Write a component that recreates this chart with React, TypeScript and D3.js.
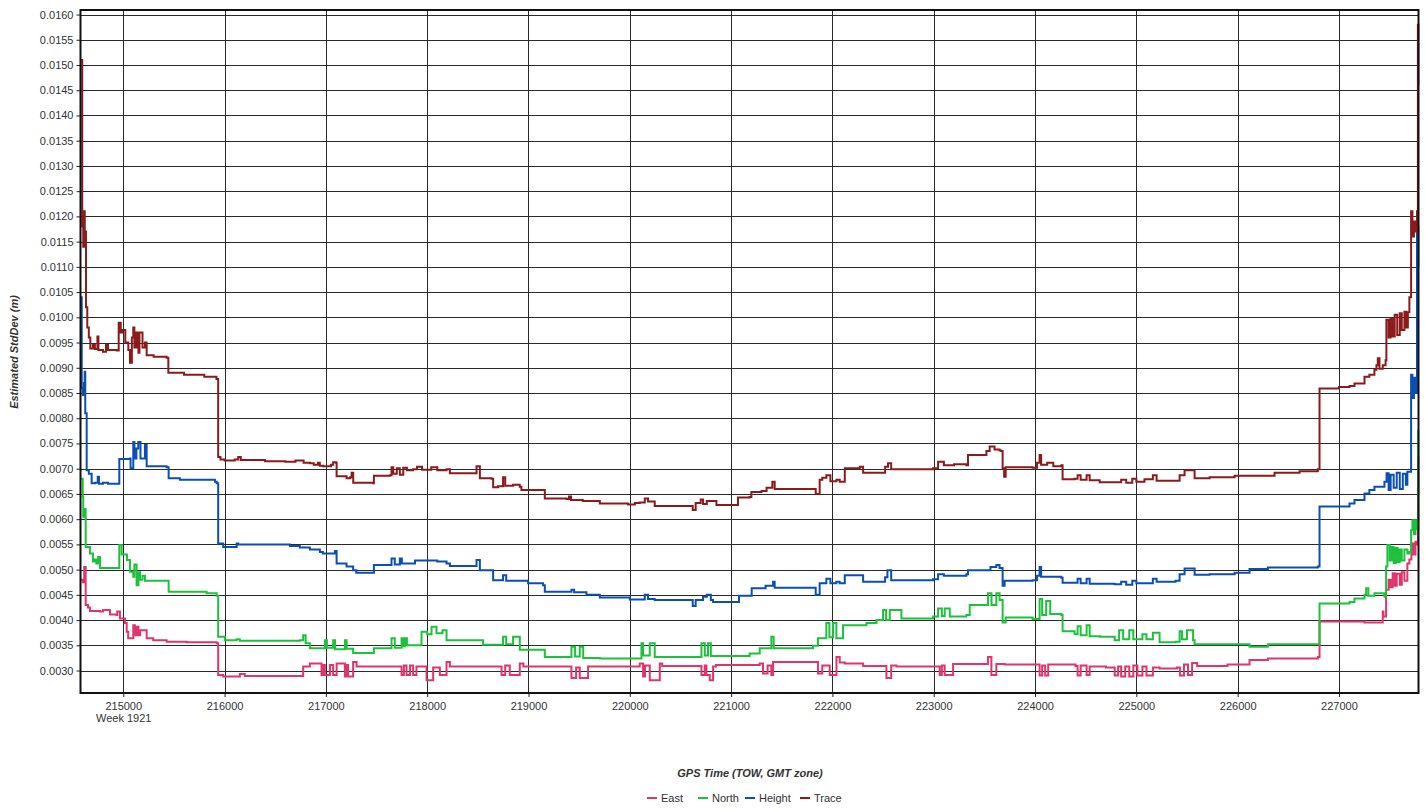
import React, { useEffect, useRef } from "react";
import * as d3 from "d3";

// GPS time of week (s) -> estimated std dev (m)
const east: [number, number][] = [
	[214580, 0.0048], [214600, 0.00475], [214615, 0.00505], [214629, 0.0043], [214652, 0.00425],
	[214671, 0.00418], [214770, 0.00417], [214800, 0.0042], [214869, 0.00411], [214935, 0.0041],
	[214941, 0.00417], [214967, 0.00403], [215017, 0.00394], [215034, 0.00377], [215049, 0.00364],
	[215099, 0.0039], [215115, 0.0037], [215132, 0.00387], [215150, 0.0037], [215165, 0.0038],
	[215231, 0.00364], [215296, 0.0036], [215428, 0.00357], [215626, 0.00356], [215922, 0.00354],
	[215937, 0.00291], [215987, 0.00288], [216151, 0.00293], [216200, 0.00289], [216743, 0.00289],
	[216776, 0.00308], [216842, 0.00314], [216941, 0.00314], [216957, 0.00291], [216975, 0.00311],
	[216990, 0.00291], [217040, 0.00311], [217072, 0.00291], [217106, 0.00314], [217188, 0.00288],
	[217204, 0.00311], [217220, 0.00288], [217269, 0.00317], [217303, 0.00308], [217730, 0.00308],
	[217747, 0.00291], [217770, 0.0031], [217796, 0.00291], [217830, 0.0031], [217861, 0.00291],
	[217894, 0.00308], [217994, 0.00281], [218026, 0.00281], [218059, 0.00306], [218125, 0.00291],
	[218191, 0.00317], [218224, 0.00308], [218717, 0.00308], [218734, 0.00291], [218770, 0.0031],
	[218815, 0.00291], [218848, 0.00291], [218914, 0.00314], [218950, 0.00308], [219375, 0.00308],
	[219424, 0.00285], [219470, 0.00306], [219506, 0.00285], [219588, 0.00308], [219704, 0.00308],
	[220033, 0.00308], [220098, 0.00314], [220131, 0.00288], [220150, 0.0031], [220197, 0.00281],
	[220296, 0.00314], [220320, 0.00309], [220690, 0.00309], [220707, 0.00291], [220740, 0.0031],
	[220756, 0.00291], [220789, 0.00281], [220822, 0.00308], [220850, 0.00311], [221003, 0.00311],
	[221282, 0.00314], [221315, 0.00294], [221360, 0.0031], [221397, 0.00291], [221414, 0.00317],
	[221808, 0.00317], [221857, 0.00294], [221900, 0.0031], [221973, 0.00291], [222040, 0.00327],
	[222072, 0.00316], [222122, 0.00314], [222270, 0.00314], [222303, 0.00309], [222467, 0.00309],
	[222533, 0.00285], [222580, 0.0031], [222632, 0.00308], [222993, 0.00308], [223059, 0.00291],
	[223080, 0.0031], [223108, 0.00291], [223191, 0.00313], [223486, 0.00313], [223535, 0.00327],
	[223569, 0.00291], [223618, 0.00313], [223650, 0.00313], [223700, 0.00312], [224020, 0.00312],
	[224045, 0.0029], [224070, 0.0031], [224100, 0.0029], [224130, 0.00312], [224400, 0.00309],
	[224420, 0.0029], [224450, 0.0031], [224509, 0.00291], [224539, 0.00308], [224700, 0.00306],
	[224786, 0.0029], [224820, 0.00308], [224850, 0.00288], [224890, 0.00308], [224930, 0.00288],
	[224970, 0.0031], [225010, 0.0029], [225060, 0.00308], [225100, 0.0029], [225163, 0.00306],
	[225229, 0.00304], [225400, 0.00306], [225430, 0.0029], [225470, 0.00312], [225510, 0.00291],
	[225550, 0.00315], [225600, 0.00309], [225900, 0.00312], [226117, 0.00321], [226298, 0.00324],
	[226791, 0.00327], [226808, 0.00397], [227104, 0.00397], [227252, 0.00395], [227383, 0.00395],
	[227432, 0.00417], [227439, 0.00407], [227465, 0.0046], [227490, 0.0048], [227510, 0.00465],
	[227530, 0.00493], [227550, 0.00468], [227570, 0.00492], [227600, 0.0047], [227620, 0.00495],
	[227646, 0.00478], [227675, 0.00512], [227695, 0.0052], [227715, 0.00552], [227735, 0.0053],
	[227755, 0.00555], [227775, 0.0055], [227780, 0.00652], [227783, 0.00724],
];

const north: [number, number][] = [
	[214580, 0.0068], [214600, 0.00644], [214605, 0.00605], [214622, 0.0062], [214629, 0.00545],
	[214671, 0.00532], [214701, 0.00516], [214720, 0.0052], [214735, 0.00512], [214753, 0.00525],
	[214770, 0.00503], [214935, 0.00503], [214961, 0.00549], [214984, 0.0053], [215037, 0.00519],
	[215066, 0.00496], [215099, 0.00486], [215110, 0.0051], [215132, 0.00469], [215150, 0.00495],
	[215165, 0.0048], [215190, 0.00488], [215214, 0.00478], [215428, 0.00478], [215448, 0.00456],
	[215559, 0.00456], [215823, 0.00453], [215922, 0.00448], [215937, 0.00367], [216003, 0.0036],
	[216119, 0.00362], [216150, 0.00359], [216743, 0.0036], [216776, 0.0037], [216800, 0.00354],
	[216842, 0.00344], [216941, 0.00344], [216990, 0.0036], [217010, 0.00345], [217072, 0.0036],
	[217090, 0.00342], [217188, 0.0036], [217205, 0.00343], [217269, 0.00335], [217467, 0.00335],
	[217474, 0.00344], [217632, 0.00344], [217648, 0.00364], [217680, 0.00345], [217747, 0.00364],
	[217765, 0.00348], [217780, 0.00364], [217800, 0.0035], [217944, 0.00377], [218000, 0.00372],
	[218043, 0.00387], [218092, 0.00374], [218151, 0.0038], [218191, 0.0036], [218470, 0.0036],
	[218552, 0.00351], [218651, 0.00351], [218749, 0.00367], [218780, 0.00352], [218848, 0.00367],
	[218914, 0.00341], [219144, 0.00341], [219161, 0.00327], [219375, 0.00327], [219424, 0.00347],
	[219460, 0.00328], [219506, 0.00347], [219540, 0.00325], [219704, 0.00324], [220066, 0.00324],
	[220115, 0.00354], [220131, 0.0033], [220197, 0.00354], [220246, 0.00327], [220674, 0.00327],
	[220707, 0.00354], [220740, 0.0033], [220772, 0.00354], [220800, 0.00329], [221019, 0.00329],
	[221183, 0.00334], [221282, 0.00344], [221397, 0.00367], [221420, 0.00344], [221546, 0.00344],
	[221808, 0.00349], [221857, 0.00364], [221940, 0.00394], [221970, 0.00366], [222006, 0.00394],
	[222039, 0.00364], [222105, 0.0039], [222336, 0.00394], [222435, 0.004], [222500, 0.0042],
	[222530, 0.004], [222566, 0.0042], [222681, 0.00403], [222993, 0.00407], [223043, 0.00423],
	[223080, 0.00408], [223108, 0.00423], [223158, 0.00407], [223322, 0.0041], [223355, 0.0043],
	[223503, 0.0043], [223535, 0.00453], [223570, 0.0043], [223618, 0.00453], [223650, 0.0044],
	[223680, 0.00395], [223710, 0.00405], [223976, 0.00402], [224045, 0.00442], [224070, 0.0041],
	[224110, 0.00438], [224150, 0.00412], [224259, 0.0041], [224272, 0.00378], [224391, 0.00372],
	[224420, 0.00388], [224450, 0.0037], [224509, 0.0039], [224539, 0.00368], [224640, 0.00367],
	[224786, 0.0036], [224830, 0.0038], [224870, 0.00362], [224930, 0.0038], [224970, 0.00362],
	[225060, 0.00372], [225100, 0.00362], [225163, 0.00375], [225229, 0.00356], [225387, 0.00357],
	[225427, 0.00378], [225450, 0.00362], [225500, 0.0038], [225560, 0.0036], [225575, 0.00352],
	[226117, 0.00347], [226298, 0.00352], [226791, 0.00352], [226808, 0.00433], [227104, 0.00436],
	[227153, 0.00443], [227252, 0.0045], [227268, 0.00463], [227290, 0.00448], [227350, 0.00453],
	[227432, 0.00453], [227449, 0.00446], [227465, 0.00506], [227478, 0.00549], [227500, 0.00518],
	[227520, 0.00545], [227540, 0.00513], [227560, 0.00543], [227580, 0.00515], [227600, 0.0054],
	[227620, 0.00518], [227646, 0.0054], [227675, 0.00532], [227695, 0.00535], [227712, 0.00578],
	[227725, 0.00598], [227740, 0.0057], [227755, 0.00598], [227775, 0.0058], [227783, 0.00777],
];

const height: [number, number][] = [
	[214580, 0.0104], [214590, 0.0086], [214600, 0.00846], [214612, 0.0087], [214619, 0.00892],
	[214625, 0.0081], [214639, 0.00697], [214660, 0.0069], [214688, 0.00671], [214720, 0.00672],
	[214748, 0.00684], [214760, 0.0067], [214800, 0.00672], [214850, 0.0067], [214935, 0.0067],
	[214961, 0.00719], [215066, 0.0072], [215072, 0.00701], [215099, 0.00753], [215110, 0.0072],
	[215130, 0.0074], [215148, 0.00753], [215170, 0.0072], [215214, 0.00747], [215231, 0.00705],
	[215428, 0.00703], [215448, 0.00681], [215559, 0.00678], [215905, 0.00674], [215922, 0.00671],
	[215937, 0.00552], [215987, 0.00545], [216119, 0.00552], [216135, 0.0055], [216645, 0.00547],
	[216743, 0.00544], [216842, 0.0054], [216941, 0.00535], [216970, 0.00532], [217089, 0.00537],
	[217106, 0.00512], [217204, 0.00506], [217269, 0.00499], [217300, 0.00494], [217467, 0.00494],
	[217474, 0.00509], [217632, 0.00509], [217648, 0.00522], [217680, 0.0051], [217730, 0.00522],
	[217750, 0.00512], [217861, 0.00512], [217880, 0.00518], [218100, 0.00516], [218191, 0.00512],
	[218224, 0.00507], [218470, 0.00507], [218487, 0.00519], [218520, 0.00499], [218618, 0.00499],
	[218651, 0.00479], [218749, 0.00489], [218780, 0.00478], [218848, 0.00478], [218996, 0.00473],
	[219144, 0.00469], [219161, 0.00456], [219375, 0.00456], [219424, 0.0046], [219450, 0.00455],
	[219572, 0.0045], [219704, 0.00445], [219983, 0.00445], [220000, 0.00441], [220098, 0.00441],
	[220148, 0.0045], [220180, 0.00442], [220246, 0.0044], [220608, 0.0044], [220621, 0.00428],
	[220650, 0.0044], [220723, 0.00446], [220760, 0.0045], [220800, 0.0044], [220822, 0.00436],
	[221068, 0.00436], [221078, 0.00448], [221183, 0.00448], [221203, 0.00463], [221282, 0.00463],
	[221340, 0.00468], [221414, 0.00476], [221430, 0.00464], [221808, 0.00464], [221835, 0.0045],
	[221874, 0.00473], [221940, 0.00482], [221980, 0.00473], [222039, 0.00476], [222072, 0.00473],
	[222122, 0.00489], [222270, 0.00489], [222303, 0.00476], [222467, 0.00476], [222520, 0.00485],
	[222543, 0.00499], [222580, 0.00479], [222862, 0.00479], [222993, 0.00481], [223043, 0.00491],
	[223100, 0.00488], [223322, 0.00491], [223338, 0.00499], [223486, 0.00499], [223560, 0.00505],
	[223618, 0.00509], [223650, 0.00503], [223665, 0.00503], [223680, 0.00468], [223700, 0.00478],
	[223976, 0.00479], [224020, 0.00488], [224045, 0.00505], [224060, 0.00486], [224259, 0.00484],
	[224272, 0.00474], [224420, 0.00482], [224450, 0.00473], [224509, 0.00482], [224539, 0.00472],
	[224786, 0.00471], [224850, 0.00476], [224900, 0.0047], [224960, 0.00478], [225000, 0.00473],
	[225163, 0.00482], [225200, 0.00476], [225387, 0.00478], [225427, 0.00491], [225476, 0.00502],
	[225560, 0.00502], [225575, 0.0049], [225723, 0.00491], [225970, 0.00494], [226117, 0.00501],
	[226298, 0.00504], [226791, 0.00506], [226808, 0.00625], [227104, 0.00631], [227153, 0.00638],
	[227252, 0.00651], [227300, 0.00658], [227350, 0.00664], [227449, 0.00674], [227470, 0.00691],
	[227490, 0.00658], [227510, 0.00688], [227540, 0.00662], [227570, 0.00692], [227600, 0.0066],
	[227630, 0.0069], [227660, 0.00668], [227675, 0.00694], [227705, 0.00694], [227712, 0.00886],
	[227725, 0.0084], [227740, 0.0088], [227755, 0.0085], [227770, 0.0118], [227783, 0.011],
];

const trace: [number, number][] = [
	[214580, 0.0151], [214595, 0.0118], [214605, 0.0114], [214612, 0.0121], [214620, 0.0117],
	[214632, 0.0102], [214645, 0.0098], [214660, 0.0096], [214675, 0.00938], [214700, 0.00945],
	[214720, 0.00937], [214745, 0.00962], [214755, 0.00935], [214800, 0.00932], [214830, 0.00945],
	[214850, 0.00935], [214935, 0.00934], [214955, 0.00989], [214975, 0.0097], [214990, 0.00975],
	[215020, 0.0095], [215050, 0.00935], [215066, 0.0091], [215085, 0.0096], [215099, 0.0098],
	[215110, 0.0094], [215130, 0.0097], [215150, 0.0093], [215160, 0.0097], [215190, 0.0094],
	[215214, 0.0095], [215231, 0.00925], [215300, 0.00922], [215428, 0.0092], [215445, 0.0089],
	[215600, 0.00886], [215800, 0.00882], [215920, 0.00878], [215937, 0.00723], [215960, 0.00718],
	[216000, 0.00716], [216100, 0.00718], [216135, 0.00723], [216160, 0.00717], [216400, 0.00715],
	[216600, 0.00714], [216700, 0.00716], [216780, 0.00712], [216842, 0.00711], [216880, 0.00708],
	[216921, 0.00712], [216940, 0.00706], [216970, 0.00705], [217050, 0.00708], [217072, 0.00713],
	[217100, 0.00712], [217106, 0.00685], [217204, 0.00681], [217240, 0.00683], [217254, 0.00692],
	[217270, 0.00672], [217467, 0.00671], [217474, 0.00686], [217632, 0.00687], [217648, 0.00703],
	[217665, 0.0069], [217700, 0.00701], [217730, 0.00688], [217764, 0.00702], [217800, 0.00697],
	[217860, 0.00699], [217900, 0.00704], [217950, 0.00698], [218040, 0.00703], [218100, 0.00697],
	[218191, 0.00699], [218224, 0.00691], [218470, 0.00691], [218487, 0.00705], [218520, 0.00681],
	[218635, 0.0068], [218651, 0.00663], [218700, 0.00665], [218749, 0.00683], [218770, 0.00666],
	[218848, 0.00668], [218914, 0.00664], [218930, 0.00658], [219144, 0.00658], [219161, 0.00641],
	[219375, 0.0064], [219400, 0.00645], [219420, 0.00638], [219536, 0.00636], [219704, 0.00631],
	[219983, 0.00629], [220050, 0.00632], [220098, 0.00633], [220148, 0.00641], [220180, 0.00635],
	[220246, 0.00626], [220608, 0.00626], [220621, 0.00618], [220650, 0.00632], [220700, 0.00639],
	[220723, 0.0063], [220760, 0.00636], [220855, 0.00628], [221052, 0.00628], [221068, 0.00643],
	[221183, 0.00644], [221200, 0.00654], [221300, 0.00656], [221350, 0.00662], [221407, 0.00674],
	[221430, 0.0066], [221808, 0.0066], [221835, 0.0065], [221874, 0.00678], [221900, 0.00682],
	[221940, 0.00687], [221980, 0.00675], [222040, 0.00678], [222072, 0.00674], [222122, 0.00701],
	[222270, 0.00704], [222303, 0.00692], [222467, 0.00692], [222520, 0.00704], [222549, 0.00711],
	[222580, 0.00699], [222862, 0.00699], [222993, 0.00701], [223043, 0.00714], [223100, 0.00707],
	[223200, 0.00709], [223322, 0.00707], [223338, 0.00727], [223486, 0.00727], [223520, 0.00735],
	[223552, 0.00744], [223600, 0.00738], [223650, 0.00736], [223665, 0.00735], [223680, 0.00701],
	[223695, 0.00684], [223710, 0.00703], [223976, 0.00702], [224020, 0.00712], [224045, 0.00727],
	[224060, 0.00708], [224120, 0.00712], [224180, 0.00705], [224259, 0.00707], [224272, 0.00679],
	[224391, 0.0068], [224420, 0.00687], [224450, 0.00678], [224509, 0.00687], [224539, 0.00677],
	[224638, 0.00673], [224786, 0.00673], [224850, 0.00678], [224900, 0.00672], [224960, 0.0068],
	[225000, 0.00674], [225080, 0.00679], [225163, 0.00687], [225200, 0.00676], [225387, 0.00676],
	[225427, 0.00687], [225476, 0.00697], [225560, 0.00697], [225575, 0.00681], [225723, 0.00683],
	[225970, 0.00686], [226364, 0.00692], [226611, 0.00695], [226791, 0.00699], [226808, 0.00859],
	[227000, 0.00862], [227104, 0.00864], [227153, 0.00869], [227252, 0.00882], [227300, 0.00886],
	[227350, 0.00896], [227370, 0.00905], [227383, 0.00919], [227400, 0.00898], [227432, 0.00905],
	[227460, 0.00915], [227468, 0.00995], [227490, 0.0096], [227510, 0.00998], [227530, 0.00962],
	[227550, 0.01005], [227575, 0.00965], [227600, 0.01008], [227620, 0.00975], [227646, 0.01011],
	[227665, 0.0098], [227680, 0.0101], [227695, 0.0104], [227712, 0.0121], [227725, 0.0116],
	[227740, 0.0119], [227755, 0.0117], [227770, 0.0121], [227779, 0.0158], [227783, 0.0146],
];

const xTicks = [215000, 216000, 217000, 218000, 219000, 220000, 221000, 222000, 223000, 224000, 225000, 226000, 227000];
const yTicks = [
	0.003, 0.0035, 0.004, 0.0045, 0.005, 0.0055, 0.006, 0.0065, 0.007, 0.0075, 0.008, 0.0085, 0.009, 0.0095,
	0.01, 0.0105, 0.011, 0.0115, 0.012, 0.0125, 0.013, 0.0135, 0.014, 0.0145, 0.015, 0.0155, 0.016,
];

const seriesNames = ["East", "North", "Height", "Trace"];
const seriesColors = ["#e0356b", "#1cc23b", "#0b4fb3", "#8b1b1b"];

const W = 1426;
const H = 810;
const FONT = "Arial, 'Liberation Sans', sans-serif";

export default function App() {
	const svgRef = useRef<SVGSVGElement | any>();

	useEffect(() => {
		document.body.style.margin = "0";
		document.body.style.overflow = "hidden";

		const svg = d3.select(svgRef.current);
		svg.selectAll("*").remove();

		const left = 80.5, right = 1418.5, top = 10, bottom = 693;
		const x = d3.scaleLinear().domain([214578, 227785]).range([left, right]);
		const y = d3.scaleLinear().domain([0.002555, 0.01609]).range([bottom, top]);

		svg.append("rect").attr("width", W).attr("height", H).attr("fill", "#fff");

		// grid
		const grid = svg.append("g").attr("shape-rendering", "crispEdges");
		grid.selectAll(".vg").data(xTicks).join("line")
			.attr("x1", (d) => Math.round(x(d)) + 0.5).attr("x2", (d) => Math.round(x(d)) + 0.5)
			.attr("y1", top).attr("y2", bottom)
			.attr("stroke", "#2a2a2a").attr("stroke-width", 1);
		grid.selectAll(".hg").data(yTicks).join("line")
			.attr("x1", left).attr("x2", right)
			.attr("y1", (d) => Math.round(y(d)) + 0.5).attr("y2", (d) => Math.round(y(d)) + 0.5)
			.attr("stroke", "#2a2a2a").attr("stroke-width", 1);

		// axes
		const yAxis: any = d3.axisLeft(y).tickValues(yTicks).tickSize(4).tickPadding(3)
			.tickFormat((d: any) => d3.format(".4f")(d));
		const gy = svg.append("g").attr("transform", `translate(${left},0)`).call(yAxis);
		const xAxis: any = d3.axisBottom(x).tickValues(xTicks).tickSize(4).tickPadding(5)
			.tickFormat((d: any) => String(d));
		const gx = svg.append("g").attr("transform", `translate(0,${bottom})`).call(xAxis);
		[gx, gy].forEach((g) => {
			g.select(".domain").remove();
			g.selectAll("line").attr("stroke", "#222");
			g.selectAll("text").attr("font-family", FONT).attr("font-size", 11).attr("fill", "#333");
		});

		// series, drawn as steps like the logger output
		const line = d3.line<[number, number]>()
			.x((d) => x(d[0]))
			.y((d) => y(d[1]))
			.curve(d3.curveStepAfter);
		const clip = svg.append("clipPath").attr("id", "plotclip");
		clip.append("rect").attr("x", left - 2).attr("y", top).attr("width", right - left + 4).attr("height", bottom - top);
		const plot = svg.append("g").attr("clip-path", "url(#plotclip)");
		[east, north, height, trace].forEach((s, i) => {
			plot.append("path")
				.datum(s)
				.attr("d", line)
				.attr("fill", "none")
				.attr("stroke", seriesColors[i])
				.attr("stroke-width", 2)
				.attr("stroke-linejoin", "miter");
		});

		// frame
		svg.append("rect")
			.attr("x", left).attr("y", top).attr("width", right - left).attr("height", bottom - top)
			.attr("fill", "none").attr("stroke", "#111").attr("stroke-width", 2);

		svg.append("text").attr("x", 96).attr("y", 722)
			.attr("font-family", FONT).attr("font-size", 11).attr("fill", "#333").text("Week 1921");

		svg.append("text").attr("x", 750).attr("y", 777).attr("text-anchor", "middle")
			.attr("font-family", FONT).attr("font-size", 11).attr("font-weight", "bold").attr("font-style", "italic")
			.attr("fill", "#333").text("GPS Time (TOW, GMT zone)");

		svg.append("text").attr("transform", "translate(18,352) rotate(-90)").attr("text-anchor", "middle")
			.attr("font-family", FONT).attr("font-size", 11).attr("font-weight", "bold").attr("font-style", "italic")
			.attr("fill", "#333").text("Estimated StdDev (m)");

		// legend
		const legendX = [647, 698, 745, 800];
		const lg = svg.append("g");
		seriesNames.forEach((n, i) => {
			lg.append("line").attr("x1", legendX[i]).attr("x2", legendX[i] + 10).attr("y1", 798).attr("y2", 798)
				.attr("stroke", seriesColors[i]).attr("stroke-width", 2);
			lg.append("text").attr("x", legendX[i] + 14).attr("y", 802)
				.attr("font-family", FONT).attr("font-size", 11).attr("fill", "#333").text(n);
		});
	}, []);

	return (
		<svg ref={svgRef} width={W} height={H} style={{ display: "block", position: "absolute", left: 0, top: 0 }} />
	);
}
